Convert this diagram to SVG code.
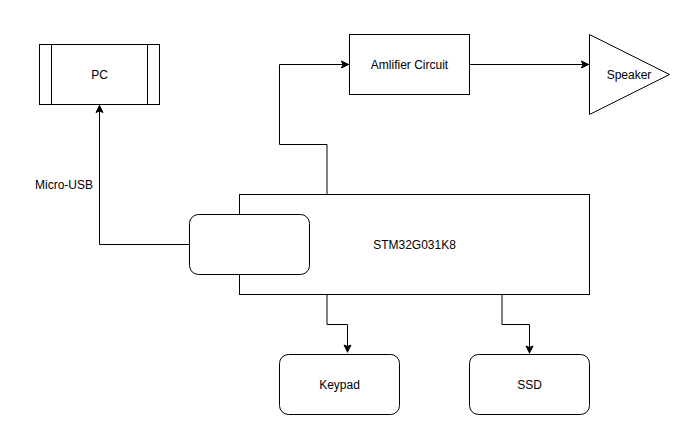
<svg xmlns="http://www.w3.org/2000/svg" width="693" height="437" viewBox="0 0 693 437">
<style>
.s{fill:#fff;stroke:#000;stroke-width:1}
.c{fill:none;stroke:#000;stroke-width:1}
.g{fill:none;stroke:#808080;stroke-width:2}
text{font-family:"Liberation Sans",Arial,sans-serif;font-size:12px;fill:#000;text-anchor:middle}
</style>
<defs>
<marker id="a" markerUnits="userSpaceOnUse" markerWidth="10" markerHeight="10" refX="9" refY="5" orient="auto" viewBox="0 0 10 10"><path d="M1.5 1.5L8.5 5L1.5 8.5L3 5Z" fill="#000" stroke="#000"/></marker>
</defs>
<rect width="693" height="437" fill="#fff"/>
<g id="connectors">
<path class="c" d="M189.5 244.5H99.5V105" marker-end="url(#a)"/>
<path class="g" d="M327 194V144.5"/>
<path class="c" d="M327 144.5H279.5V64.5H349" marker-end="url(#a)"/>
<path class="g" d="M327 295V324.5"/>
<path class="c" d="M327 324.5H347.5V352.5" marker-end="url(#a)"/>
<path class="g" d="M502 295V324.5"/>
<path class="c" d="M502 324.5H529.5V353.5" marker-end="url(#a)"/>
<path class="c" d="M469.5 64.5H589" marker-end="url(#a)"/>
</g>
<g id="pc">
<rect class="s" x="39.5" y="44.5" width="120" height="60"/>
<path class="c" d="M51.5 44.5V104.5M147.5 44.5V104.5"/>
<text x="99.5" y="79">PC</text>
</g>
<g id="amplifier">
<rect class="s" x="349.5" y="34.5" width="120" height="60"/>
<text x="409.5" y="69">Amlifier Circuit</text>
</g>
<g id="speaker">
<path class="s" d="M589.5 34.5L669.5 74.5L589.5 114.5Z"/>
<text x="629" y="79">Speaker</text>
</g>
<g id="mcu">
<rect class="s" x="239.5" y="194.5" width="350" height="100"/>
<text x="414.5" y="249">STM32G031K8</text>
</g>
<g id="usb">
<rect class="s" x="189.5" y="214.5" width="120" height="60" rx="9" ry="9"/>
</g>
<g id="keypad">
<rect class="s" x="279.5" y="354.5" width="120" height="60" rx="9" ry="9"/>
<text x="339.5" y="389">Keypad</text>
</g>
<g id="ssd">
<rect class="s" x="469.5" y="354.5" width="120" height="60" rx="9" ry="9"/>
<text x="529.5" y="389">SSD</text>
</g>
<g id="label">
<text x="64" y="189">Micro-USB</text>
</g>
</svg>
